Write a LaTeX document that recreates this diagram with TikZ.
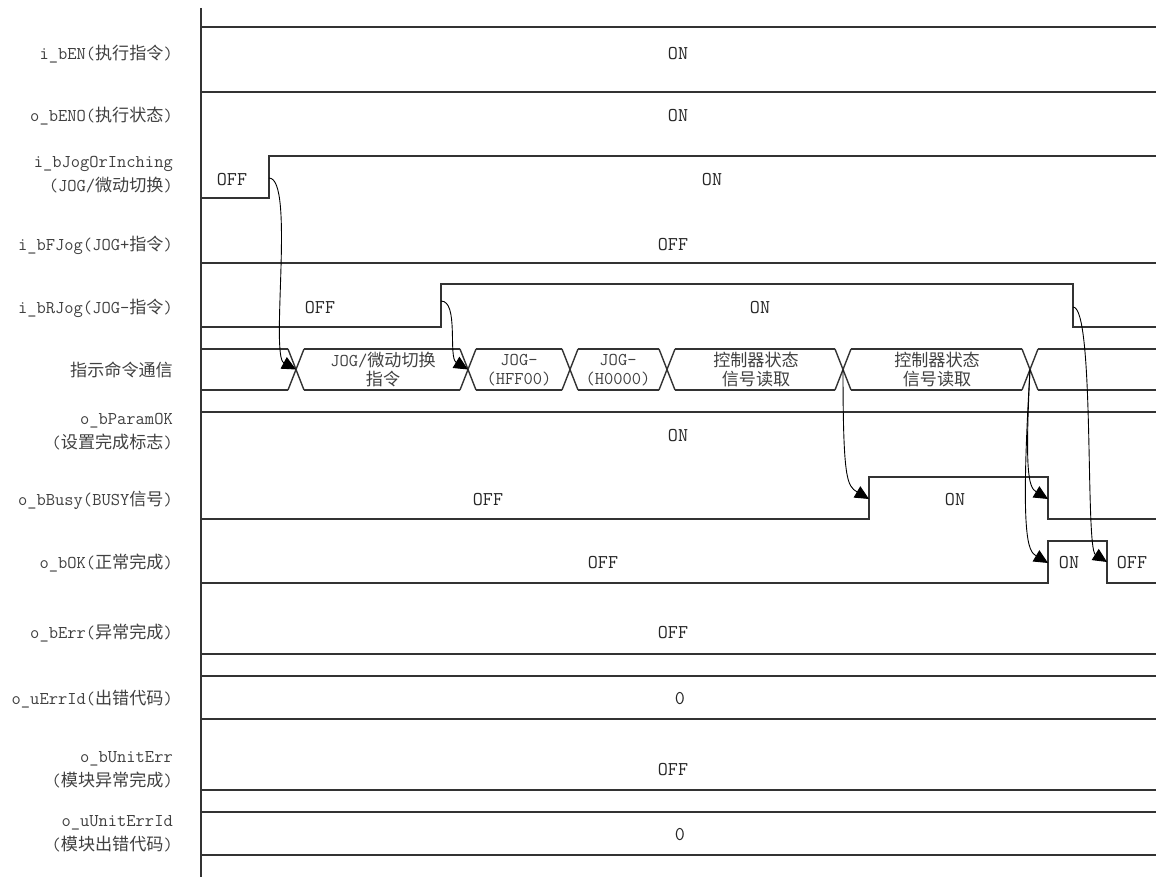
\documentclass[tikz,border=0pt]{standalone}
\usepackage{fontspec}
\newfontfamily\cjk[Scale=0.95]{Noto Sans CJK SC}
\usepackage{tikz}
\usetikzlibrary{
    arrows.meta,
    calc
}

\tikzset{
    sig/.style={line width=1.4pt, draw=black!80},
    lbl/.style={anchor=east, align=right, inner sep=0pt, text=black!75,
        font=\ttfamily\fontsize{18}{24}\selectfont},
    val/.style={inner sep=0pt, text=black!85, font=\ttfamily\fontsize{19.5}{20}\selectfont},
    cmd/.style={align=center, inner sep=0pt, text=black!75,
        font=\ttfamily\fontsize{18}{19}\selectfont},
    cause/.style={-{Triangle[length=14pt, width=13pt]}, line width=0.9pt, black}
}

\begin{document}
\begin{tikzpicture}[x=1pt, y=-1pt]
            \useasboundingbox (0,0) rectangle (1156,877);

            % Signal names
            \node[lbl] (nEN) at (173,54) {i\_bEN({\cjk 执行指令})};
            \node[lbl] (nENO) at (173,116) {o\_bENO({\cjk 执行状态})};
            \node[lbl] (nJog) at (173,175) {i\_bJogOrInching\\(JOG/{\cjk 微动切换})};
            \node[lbl] (nFJog) at (173,245) {i\_bFJog(JOG+{\cjk 指令})};
            \node[lbl] (nRJog) at (173,308) {i\_bRJog(JOG-{\cjk 指令})};
            \node[lbl] (nCmd) at (173,370) {\cjk 指示命令通信};
            \node[lbl] (nParam) at (173,432) {o\_bParamOK\\({\cjk 设置完成标志})};
            \node[lbl] (nBusy) at (173,500) {o\_bBusy(BUSY{\cjk 信号})};
            \node[lbl] (nOK) at (173,563) {o\_bOK({\cjk 正常完成})};
            \node[lbl] (nErr) at (173,633) {o\_bErr({\cjk 异常完成})};
            \node[lbl] (nErrId) at (173,699) {o\_uErrId({\cjk 出错代码})};
            \node[lbl] (nUErr) at (173,770) {o\_bUnitErr\\({\cjk 模块异常完成})};
            \node[lbl] (nUErrId) at (173,834) {o\_uUnitErrId\\({\cjk 模块出错代码})};

            % Time axis
            \draw[sig] (201,8) -- (201,877);

            % i_bEN, o_bENO
            \draw[sig] (201,27) -- (1156,27);
            \node[val] (vEN) at (678,54) {ON};
            \draw[sig] (201,92) -- (1156,92);
            \node[val] (vENO) at (678,116) {ON};

            % i_bJogOrInching
            \draw[sig] (201,198) -- (269,198) -- (269,156) -- (1156,156);
            \coordinate (jogUp) at (269,178);
            \node[val] (vJogOff) at (232,180) {OFF};
            \node[val] (vJogOn) at (712,180) {ON};

            % i_bFJog
            \draw[sig] (201,263) -- (1156,263);
            \node[val] (vFJog) at (673,245) {OFF};

            % i_bRJog
            \draw[sig] (201,327) -- (441,327) -- (441,284) -- (1073,284) -- (1073,327) -- (1156,327);
            \coordinate (rjUp) at (441,301);
            \coordinate (rjDown) at (1073,307);
            \node[val] (vRJogOff) at (320,308) {OFF};
            \node[val] (vRJogOn) at (760,308) {ON};

            % Command bus
            \foreach \a/\b in {201/288, 304/460, 476/562, 578/659, 675/835, 851/1022, 1038/1156}
                \draw[sig] (\a,349) -- (\b,349) (\a,390) -- (\b,390);
            \foreach \cx [count=\i] in {296, 468, 570, 667, 843, 1030} {
                \draw[sig] (\cx-8,349) -- (\cx+8,390) (\cx-8,390) -- (\cx+8,349);
                \coordinate (x\i) at (\cx,369.5);
            }
            \node[cmd] (c1) at (383,370) {JOG/{\cjk 微动切换}\\{\cjk 指令}};
            \node[cmd] (c2) at (519,370) {JOG-\\(HFF00)};
            \node[cmd] (c3) at (618,370) {JOG-\\(H0000)};
            \node[cmd] (c4) at (756,370) {\cjk 控制器状态\\\cjk 信号读取};
            \node[cmd] (c5) at (937,370) {\cjk 控制器状态\\\cjk 信号读取};

            % o_bParamOK
            \draw[sig] (201,412) -- (1156,412);
            \node[val] (vParam) at (678,436) {ON};

            % o_bBusy
            \draw[sig] (201,519) -- (869,519) -- (869,477) -- (1048,477) -- (1048,519) -- (1156,519);
            \coordinate (busyUp) at (869,499);
            \coordinate (busyDown) at (1048,499);
            \node[val] (vBusyOff) at (488,500) {OFF};
            \node[val] (vBusyOn) at (955,500) {ON};

            % o_bOK
            \draw[sig] (201,583) -- (1048,583) -- (1048,541) -- (1107,541) -- (1107,583) -- (1156,583);
            \coordinate (okUp) at (1048,563);
            \coordinate (okDown) at (1107,562);
            \node[val] (vOKOff) at (603,563) {OFF};
            \node[val] (vOKOn) at (1069,563) {ON};
            \node[val] (vOKEnd) at (1132,563) {OFF};

            % o_bErr, o_uErrId
            \draw[sig] (201,654) -- (1156,654);
            \node[val] (vErr) at (673,633) {OFF};
            \draw[sig] (201,676) -- (1156,676) (201,719) -- (1156,719);
            \node[val] (vErrId) at (680,699) {0};

            % o_bUnitErr, o_uUnitErrId
            \draw[sig] (201,790) -- (1156,790);
            \node[val] (vUErr) at (673,770) {OFF};
            \draw[sig] (201,812) -- (1156,812) (201,855) -- (1156,855);
            \node[val] (vUErrId) at (680,835) {0};

            % Cause and effect
            \draw[cause] (jogUp) .. controls +(26,0) and +(-26,-14) .. (x1);
            \draw[cause] (rjUp) .. controls +(18,0) and +(-20,-12) .. (x2);
            \draw[cause] (x5) .. controls +(0,110) and +(-22,-13) .. (busyUp);
            \draw[cause] (x6) .. controls +(-5,100) and +(-20,-12) .. (busyDown);
            \draw[cause] (x6) .. controls +(-10,170) and +(-20,-12) .. (okUp);
            \draw[cause] (rjDown) .. controls +(22,0) and +(-22,-14) .. (okDown);
        \end{tikzpicture}
\end{document}
